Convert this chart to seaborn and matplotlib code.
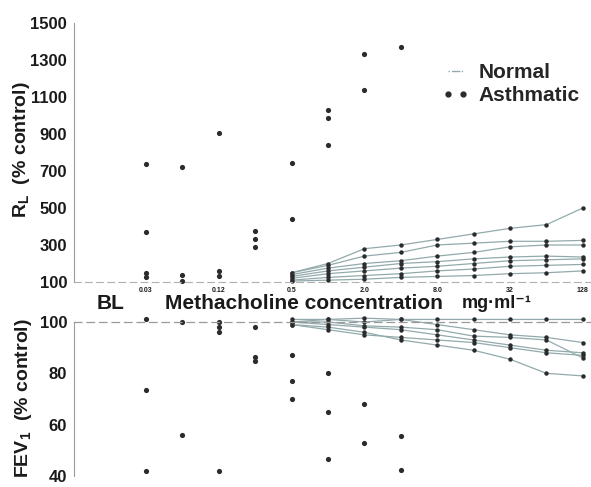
import pandas as pd
import matplotlib
matplotlib.use('Agg')
import matplotlib.pyplot as plt
import seaborn as sns
from matplotlib.lines import Line2D
from matplotlib.ticker import NullFormatter

# Methacholine doses (mg/ml), doubling steps
doses = [0.03125, 0.0625, 0.125, 0.25, 0.5, 1, 2, 4, 8, 16, 32, 64, 128]
tick_doses = [0.03125, 0.125, 0.5, 2, 8, 32, 128]
tick_labels = ['0.03', '0.12', '0.5', '2.0', '8.0', '32', '128']
normal_doses = doses[4:]

# Asthmatic subjects, RL (% control)
asth_rl_dose = [0.03125] * 4 + [0.0625] * 3 + [0.125] * 3 + [0.25] * 3 + [0.5] * 2 + [1] * 3 + [2] * 2 + [4]
asth_rl_value = [740, 370, 150, 125, 720, 140, 105, 905, 160, 130, 375, 335, 290,
                 745, 440, 1030, 985, 840, 1335, 1140, 1370]

# Asthmatic subjects, FEV1 (% control)
asth_fev_dose = [0.03125] * 3 + [0.0625] * 2 + [0.125] * 4 + [0.25] * 3 + [0.5] * 3 + [1] * 3 + [2] * 2 + [4] * 2
asth_fev_value = [101, 73.5, 42, 100, 56, 100, 98, 96, 42, 98, 86.5, 85,
                  87, 77, 70, 80, 65, 46.5, 68, 53, 55.5, 42.5]

# Normal subjects, RL (% control) at 0.5 ... 128 mg/ml
normal_rl = [
    [150, 200, 280, 300, 330, 360, 390, 410, 500],
    [150, 190, 240, 260, 300, 310, 320, 320, 325],
    [140, 175, 200, 215, 240, 260, 290, 300, 300],
    [130, 160, 180, 200, 210, 225, 235, 240, 235],
    [120, 145, 160, 175, 185, 200, 215, 220, 225],
    [110, 125, 135, 145, 160, 170, 185, 190, 195],
    [105, 110, 115, 125, 130, 135, 145, 150, 160],
]

# Normal subjects, FEV1 (% control) at 0.5 ... 128 mg/ml
normal_fev = [
    [101, 101, 101.5, 101, 101, 101, 101, 101, 101],
    [100, 101, 100, 101, 99, 97, 95, 94, 92],
    [100, 100, 98.5, 98, 97, 94.5, 94, 93, 86],
    [99, 98, 96, 93, 91, 89, 85.5, 80, 79],
    [99, 97, 95, 94, 93, 92, 90, 88, 87],
    [100, 99, 98, 97, 95, 93, 91, 89, 88],
]


def to_long(rows):
    recs = []
    for i, row in enumerate(rows):
        for d, v in zip(normal_doses, row):
            recs.append((f'N{i}', d, v))
    return pd.DataFrame(recs, columns=['subject', 'dose', 'value'])


normal_rl_df = to_long(normal_rl)
normal_fev_df = to_long(normal_fev)
asth_rl_df = pd.DataFrame({'dose': asth_rl_dose, 'value': asth_rl_value})
asth_fev_df = pd.DataFrame({'dose': asth_fev_dose, 'value': asth_fev_value})

sns.set_style('white')
plt.rcParams['font.family'] = ['Liberation Sans', 'DejaVu Sans']
plt.rcParams['font.weight'] = 'bold'
plt.rcParams['mathtext.fontset'] = 'custom'
plt.rcParams['mathtext.rm'] = 'Liberation Sans:bold'
plt.rcParams['mathtext.bf'] = 'Liberation Sans:bold'
plt.rcParams['mathtext.it'] = 'Liberation Sans:bold'

W, H = 591, 487
fig = plt.figure(figsize=(W / 100, H / 100), dpi=100)


def rect(left, top, right, bottom):
    return [left / W, 1 - bottom / H, (right - left) / W, (bottom - top) / H]


line_col = '#93aaac'
dot_col = '#2b2b2b'
spine_col = '#9a9a9a'
text_col = '#1a1a1a'
xlim = (0.00794, 149.6)

ax1 = fig.add_axes(rect(74, 23, 591, 282))
ax2 = fig.add_axes(rect(74, 322, 591, 476))

for ax in (ax1, ax2):
    ax.set_xscale('log', base=2)

# top panel: RL
sns.lineplot(data=normal_rl_df, x='dose', y='value', units='subject', estimator=None,
             color=line_col, lw=0.9, marker='o', markersize=3.2, markerfacecolor=dot_col,
             markeredgewidth=0, ax=ax1)
sns.scatterplot(data=asth_rl_df, x='dose', y='value', color=dot_col, s=14, linewidth=0, ax=ax1)

# bottom panel: FEV1
sns.lineplot(data=normal_fev_df, x='dose', y='value', units='subject', estimator=None,
             color=line_col, lw=0.9, marker='o', markersize=3.2, markerfacecolor=dot_col,
             markeredgewidth=0, ax=ax2)
sns.scatterplot(data=asth_fev_df, x='dose', y='value', color=dot_col, s=14, linewidth=0, ax=ax2)

for ax in (ax1, ax2):
    for art in list(ax.lines) + list(ax.collections):
        art.set_clip_on(False)
    ax.set_xlim(*xlim)
    ax.set_xlabel('')
    ax.set_ylabel('')
    ax.spines['right'].set_visible(False)
    ax.spines['left'].set_color(spine_col)
    ax.spines['left'].set_linewidth(0.8)
    ax.tick_params(axis='y', direction='out', length=2, width=0.8, color=spine_col,
                   labelsize=12, pad=3, labelcolor=text_col)

ax1.set_ylim(100, 1500)
ax1.set_yticks(range(100, 1501, 200))
ax1.spines['top'].set_visible(False)
ax1.spines['bottom'].set_linestyle((0, (6, 4)))
ax1.spines['bottom'].set_color('#b0b0b0')
ax1.spines['bottom'].set_linewidth(0.8)
ax1.set_xticks(tick_doses, tick_labels)
ax1.set_xticks(doses, minor=True)
ax1.xaxis.set_minor_formatter(NullFormatter())
ax1.tick_params(axis='x', which='both', direction='inout', length=5, width=0.8,
                color='#a8a8a8', labelsize=5, pad=1, labelcolor=text_col)

ax2.set_ylim(40, 100)
ax2.set_yticks([40, 60, 80, 100])
ax2.spines['bottom'].set_visible(False)
ax2.spines['top'].set_linestyle((0, (6, 4)))
ax2.spines['top'].set_color('#9a9a9a')
ax2.spines['top'].set_linewidth(0.9)
ax2.set_xticks([])
ax2.set_xticks([], minor=True)

# axis titles and the shared dose label between the panels
fig.text(22 / W, 1 - 150 / H, r'R$_\mathrm{L}$  (% control)', rotation=90,
         ha='center', va='center', fontsize=14, fontweight='bold', color=text_col)
fig.text(24 / W, 1 - 398 / H, r'FEV$_\mathrm{1}$  (% control)', rotation=90,
         ha='center', va='center', fontsize=14, fontweight='bold', color=text_col)
fig.text(97 / W, 1 - 303.5 / H, 'BL', ha='left', va='center', fontsize=15,
         fontweight='bold', color=text_col)
fig.text(165 / W, 1 - 303.5 / H, 'Methacholine concentration', ha='left', va='center',
         fontsize=15, fontweight='bold', color=text_col)
fig.text(462 / W, 1 - 303.5 / H, 'mg·ml⁻¹', ha='left', va='center', fontsize=13,
         fontweight='bold', color=text_col)

handles = [Line2D([], [], color=line_col, lw=1.0, linestyle=(0, (1, 1.5, 6, 1))),
           Line2D([], [], color=dot_col, marker='o', markersize=3.5, linestyle='')]
ax1.legend(handles, ['Normal', 'Asthmatic'], loc='upper left',
           bbox_to_anchor=(442 / W, 1 - 63 / H), bbox_transform=fig.transFigure,
           frameon=False, numpoints=2, borderpad=0, borderaxespad=0,
           handlelength=1.3, handletextpad=0.45, labelspacing=0.2,
           prop={'weight': 'bold', 'size': 15})

fig.savefig('out.png', dpi=100)
